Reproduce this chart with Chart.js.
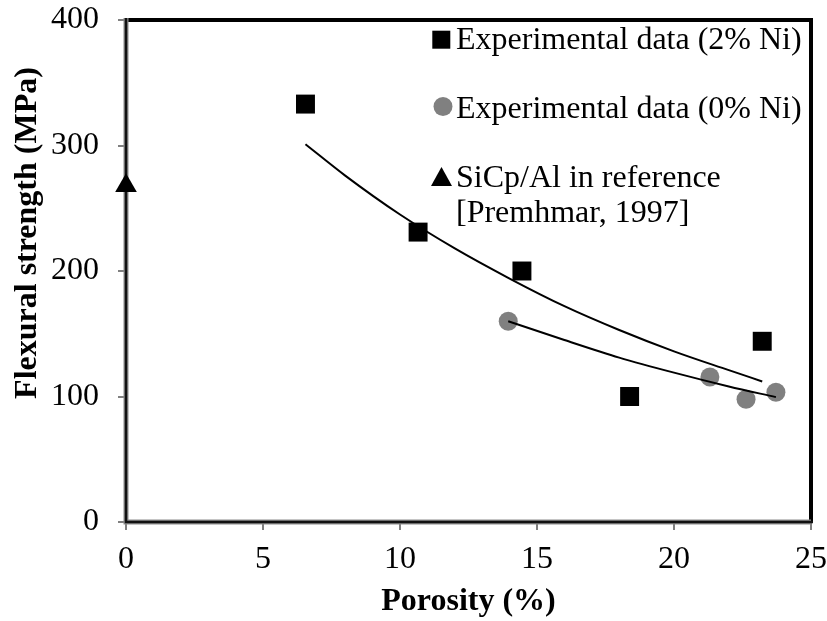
<!DOCTYPE html>
<html><head><meta charset="utf-8">
<script src="https://cdn.jsdelivr.net/npm/chart.js@4.4.0/dist/chart.umd.min.js"></script>
<style>html,body{margin:0;padding:0;background:#fff;}#wrap{width:827px;height:621px;}</style>
</head><body><div id="wrap"><canvas id="c" width="827" height="621"></canvas></div>
<script>
// ---- data ----
const ni2Porosity = [6.55, 10.66, 14.45, 18.38, 23.22];
const ni2Strength = [333, 231, 200, 100, 144];
const ni0Porosity = [13.95, 21.31, 22.63, 23.72];
const ni0Strength = [160, 115.6, 97.8, 103.4];
const refPorosity = [0];
const refStrength = [268];
// exponential trend lines
const trend2X = [6.55, 8, 10, 12, 14, 16, 18, 20, 22, 23.22];
const trend2Y = [301, 276, 245, 218, 194, 172, 153, 136, 121, 112];
const trend0X = [13.95, 16, 18, 20, 22, 23.72];
const trend0Y = [160, 145, 131, 119, 108, 99.5];
const seriesNames = ['Experimental data (2% Ni)', 'Experimental data (0% Ni)', ['SiCp/Al in reference', '[Premhmar, 1997]']];
const xTitle = 'Porosity (%)';
const yTitle = 'Flexural strength (MPa)';
const xMin = 0, xMax = 25, xStep = 5;
const yMin = 0, yMax = 400, yStep = 100;

const pts = (xs, ys) => xs.map((x, i) => ({x: x, y: ys[i]}));
const FAMILY = '"Liberation Serif", "Times New Roman", serif';
Chart.defaults.font.family = FAMILY;
Chart.defaults.color = '#000';

const framePlugin = {
  id: 'frame',
  beforeDatasetsDraw(chart) {
    const {left, right, top, bottom} = chart.chartArea;
    const ctx = chart.ctx;
    ctx.save();
    ctx.strokeStyle = '#000'; ctx.lineWidth = 4;
    ctx.beginPath(); ctx.moveTo(left, top); ctx.lineTo(right, top); ctx.lineTo(right, bottom); ctx.stroke();
    ctx.strokeStyle = '#8c8c8c'; ctx.lineWidth = 5;
    ctx.beginPath(); ctx.moveTo(left, top - 2); ctx.lineTo(left, bottom); ctx.lineTo(right, bottom); ctx.stroke();
    ctx.strokeStyle = '#111'; ctx.lineWidth = 2.5;
    ctx.beginPath(); ctx.moveTo(left, top - 2); ctx.lineTo(left, bottom); ctx.lineTo(right + 2, bottom); ctx.stroke();
    ctx.restore();
  }
};

const legendPlugin = {
  id: 'customLegend',
  afterDatasetsDraw(chart) {
    const ctx = chart.ctx;
    ctx.save();
    ctx.font = '32px ' + FAMILY;
    ctx.fillStyle = '#000';
    ctx.textAlign = 'left';
    ctx.textBaseline = 'alphabetic';
    const tx = 456;
    // square
    ctx.fillStyle = '#000';
    ctx.fillRect(432.3, 30.7, 18, 18);
    ctx.fillText(seriesNames[0], tx, 48.5);
    // circle
    ctx.fillStyle = '#808080';
    ctx.beginPath(); ctx.arc(443, 106.5, 9.5, 0, Math.PI * 2); ctx.fill();
    ctx.fillStyle = '#000';
    ctx.fillText(seriesNames[1], tx, 117.5);
    // triangle
    ctx.beginPath(); ctx.moveTo(441.5, 167); ctx.lineTo(452, 186); ctx.lineTo(431, 186); ctx.closePath(); ctx.fill();
    ctx.fillText(seriesNames[2][0], tx, 186.5);
    ctx.fillText(seriesNames[2][1], tx, 221.5);
    // y axis title
    ctx.font = 'bold 32px ' + FAMILY;
    ctx.translate(36, 233);
    ctx.rotate(-Math.PI / 2);
    ctx.textAlign = 'center';
    ctx.fillText(yTitle, 0, 0);
    ctx.restore();
  }
};

new Chart(document.getElementById('c'), {
  type: 'scatter',
  data: {
    datasets: [
      {type: 'line', label: 'trend 2% Ni', data: pts(trend2X, trend2Y), borderColor: '#000', borderWidth: 2,
       pointRadius: 0, fill: false, cubicInterpolationMode: 'monotone', clip: false},
      {type: 'line', label: 'trend 0% Ni', data: pts(trend0X, trend0Y), borderColor: '#000', borderWidth: 2,
       pointRadius: 0, fill: false, cubicInterpolationMode: 'monotone', clip: false},
      {label: seriesNames[0], data: pts(ni2Porosity, ni2Strength), pointStyle: 'rect', pointRadius: 13.4,
       backgroundColor: '#000', borderColor: '#000', borderWidth: 0, clip: false},
      {label: seriesNames[1], data: pts(ni0Porosity, ni0Strength), pointStyle: 'circle', pointRadius: 9.5,
       backgroundColor: '#808080', borderColor: '#808080', borderWidth: 0, clip: false},
      {label: seriesNames[2].join(' '), data: pts(refPorosity, refStrength), pointStyle: 'triangle', pointRadius: 12.5,
       backgroundColor: '#000', borderColor: '#000', borderWidth: 0, clip: false}
    ]
  },
  options: {
    responsive: false,
    animation: false,
    devicePixelRatio: 1,
    events: [],
    layout: {padding: {left: 0, right: 16, top: 20, bottom: 0}},
    plugins: {legend: {display: false}, tooltip: {enabled: false}},
    scales: {
      x: {
        type: 'linear', min: xMin, max: xMax,
        ticks: {stepSize: xStep, padding: 10, font: {size: 32}, color: '#000', maxRotation: 0},
        grid: {display: true, drawOnChartArea: false, drawTicks: true, tickLength: 8, color: '#808080', lineWidth: 2},
        border: {display: false},
        title: {display: true, text: xTitle, font: {size: 32, weight: 'bold'}, color: '#000', padding: {top: 0, bottom: 0}},
        afterFit(s) { s.height = 99; s.paddingLeft = 0; s.paddingRight = 0; s.paddingTop = 0; s.paddingBottom = 0; }
      },
      y: {
        type: 'linear', min: yMin, max: yMax,
        ticks: {stepSize: yStep, padding: 19, font: {size: 32}, color: '#000'},
        grid: {display: true, drawOnChartArea: false, drawTicks: true, tickLength: 8, color: '#808080', lineWidth: 2},
        border: {display: false},
        title: {display: false},
        afterFit(s) { s.width = 126; s.paddingLeft = 0; s.paddingRight = 0; s.paddingTop = 0; s.paddingBottom = 0; }
      }
    }
  },
  plugins: [framePlugin, legendPlugin]
});
</script></body></html>
